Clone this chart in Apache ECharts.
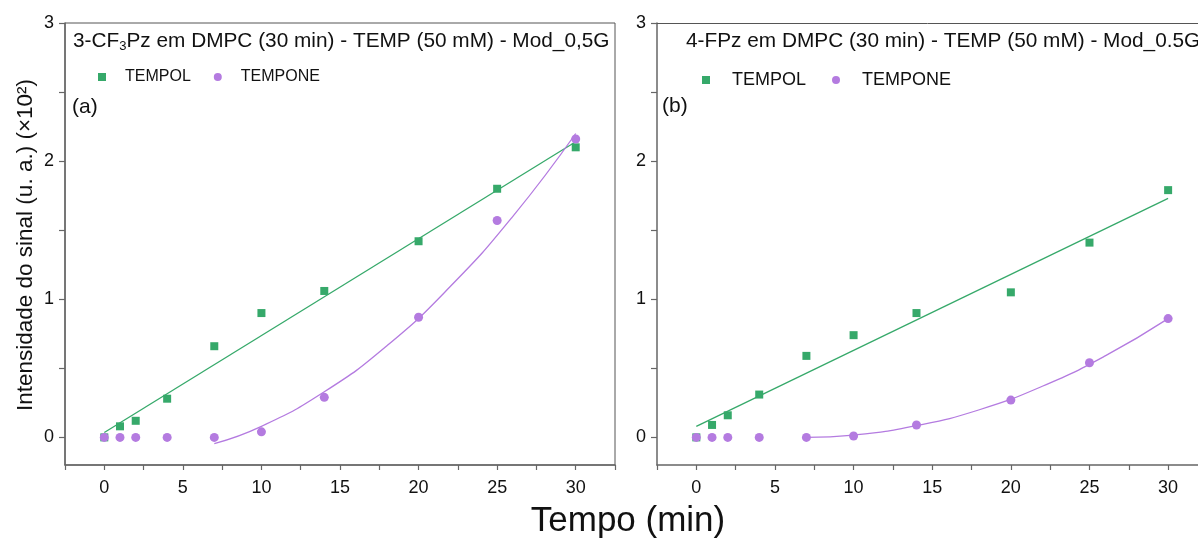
<!DOCTYPE html>
<html>
<head>
<meta charset="utf-8">
<script src="https://cdn.jsdelivr.net/npm/echarts@6/dist/echarts.min.js"></script>
<style>html,body{margin:0;padding:0;background:#fff}#c{width:1198px;height:539px}</style>
</head>
<body>
<div id="c"></div>
<script>
const times = [0, 1, 2, 4, 7, 10, 14, 20, 25, 30];
const tempolA = [0, 0.08, 0.12, 0.28, 0.66, 0.90, 1.06, 1.42, 1.80, 2.10];
const temponeA = [0, 0, 0, 0, 0, 0.04, 0.29, 0.87, 1.57, 2.16];
const tempolB = [0, 0.09, 0.16, 0.31, 0.59, 0.74, 0.90, 1.05, 1.41, 1.79];
const temponeB = [0, 0, 0, 0, 0, 0.01, 0.09, 0.27, 0.54, 0.86];
const fitLineX = [0, 30];
const fitTempolA = [0.035, 2.14];
const fitTempolB = [0.08, 1.73];
const fitCurveX = [7, 10, 14, 18, 22, 26, 30];
const fitTemponeA = [-0.045, 0.08, 0.33, 0.665, 1.09, 1.6, 2.2];
const fitTemponeB = [0, 0.017, 0.085, 0.2, 0.37, 0.59, 0.86];
const xTicks = [-2.5, 0, 2.5, 5, 7.5, 10, 12.5, 15, 17.5, 20, 22.5, 25, 27.5, 30, 32.5];
const xLabels = [0, 5, 10, 15, 20, 25, 30];
const yTicks = [0, 0.5, 1, 1.5, 2, 2.5, 3];
const yLabels = [0, 1, 2, 3];

const GREEN = '#36a96a';
const PURPLE = '#b47be0';
const AXIS = '#666';
const FONT = 'Liberation Sans, Arial, sans-serif';

function pairs(xs, ys) { return xs.map((x, i) => [x, ys[i]]); }

function xAxisDef(gi, xmax) {
  return {
    gridIndex: gi, type: 'value', min: -2.5, max: xmax,
    axisLine: { show: true, onZero: false, lineStyle: { color: AXIS, width: 1.5 } },
    axisTick: { show: true, length: 5, customValues: xTicks.filter(v => v <= xmax), lineStyle: { color: AXIS, width: 1.2 } },
    axisLabel: { customValues: xLabels, margin: 14, fontSize: 18, color: '#111', fontFamily: FONT },
    splitLine: { show: false }
  };
}
function yAxisDef(gi) {
  return {
    gridIndex: gi, type: 'value', min: -0.2, max: 3,
    axisLine: { show: true, onZero: false, lineStyle: { color: AXIS, width: 1.5 } },
    axisTick: { show: true, length: 6, customValues: yTicks, lineStyle: { color: AXIS, width: 1.2 } },
    axisLabel: { customValues: yLabels, margin: 11, fontSize: 18, color: '#111', fontFamily: FONT },
    splitLine: { show: false }
  };
}
function scatter(name, gi, data, color, symbol) {
  return {
    name: name, type: 'scatter', xAxisIndex: gi, yAxisIndex: gi,
    data: data, symbol: symbol, symbolSize: symbol === 'rect' ? 8 : 9,
    itemStyle: { color: color, opacity: 1 }, z: symbol === 'rect' ? 3 : 4
  };
}
function fit(name, gi, data, color, smooth) {
  return {
    name: name, type: 'line', xAxisIndex: gi, yAxisIndex: gi, data: data,
    showSymbol: false, smooth: smooth, lineStyle: { color: color, width: 1.3 },
    itemStyle: { color: color }, z: 2, silent: true
  };
}

const chart = echarts.init(document.getElementById('c'), null, { renderer: 'canvas' });
chart.setOption({
  animation: false,
  backgroundColor: '#fff',
  grid: [
    { left: 65, top: 23, width: 550, height: 442, show: true, borderColor: '#555', borderWidth: 1 },
    { left: 657, top: 23, right: 0, height: 442, show: false }
  ],
  xAxis: [
    xAxisDef(0, 32.5),
    xAxisDef(1, 31.9),
    { gridIndex: 1, type: 'value', position: 'top', min: -2.5, max: 31.9,
      axisLine: { show: true, onZero: false, lineStyle: { color: '#555', width: 1 } },
      axisTick: { show: false }, axisLabel: { show: false }, splitLine: { show: false } }
  ],
  yAxis: [yAxisDef(0), yAxisDef(1)],
  legend: [
    { left: 98, top: 69, padding: 0, itemWidth: 8, itemHeight: 8, itemGap: 23, selectedMode: false,
      data: [{ name: 'TEMPOL', icon: 'rect' }, { name: 'TEMPONE', icon: 'circle' }],
      textStyle: { fontSize: 16, color: '#111', fontFamily: FONT, padding: [0, 0, 0, 14] } },
    { left: 702, top: 71, padding: 0, itemWidth: 8, itemHeight: 8, itemGap: 26, selectedMode: false,
      data: [{ name: 'TEMPOL', icon: 'rect' }, { name: 'TEMPONE', icon: 'circle' }],
      textStyle: { fontSize: 18, color: '#111', fontFamily: FONT, padding: [0, 0, 0, 17] } }
  ],
  graphic: [
    { type: 'text', left: 73, top: 31, style: {
        text: '3-CF{sub|3}Pz em DMPC (30 min) - TEMP (50 mM) - Mod_0,5G',
        font: '20.8px ' + FONT, fill: '#111',
        rich: { sub: { fontSize: 13, fontFamily: FONT, fill: '#111', padding: [10, 0, 0, 0] } } } },
    { type: 'text', left: 686, top: 31, style: {
        text: '4-FPz em DMPC (30 min) - TEMP (50 mM) - Mod_0.5G',
        font: '20.8px ' + FONT, fill: '#111' } },
    { type: 'text', left: 72, top: 97, style: { text: '(a)', font: '21px ' + FONT, fill: '#111' } },
    { type: 'text', left: 662, top: 96, style: { text: '(b)', font: '21px ' + FONT, fill: '#111' } },
    { type: 'text', x: 26, y: 245, rotation: Math.PI / 2, style: {
        text: 'Intensidade do sinal (u. a.) (\u00d710\u00b2)', font: '22.5px ' + FONT, fill: '#111',
        align: 'center', verticalAlign: 'middle' } },
    { type: 'text', x: 628, y: 521, style: {
        text: 'Tempo (min)', font: '35px ' + FONT, fill: '#111', align: 'center', verticalAlign: 'middle' } }
  ],
  series: [
    fit('fitA1', 0, pairs(fitLineX, fitTempolA), GREEN, false),
    fit('fitA2', 0, pairs(fitCurveX, fitTemponeA), PURPLE, true),
    scatter('TEMPOL', 0, pairs(times, tempolA), GREEN, 'rect'),
    scatter('TEMPONE', 0, pairs(times, temponeA), PURPLE, 'circle'),
    fit('fitB1', 1, pairs(fitLineX, fitTempolB), GREEN, false),
    fit('fitB2', 1, pairs(fitCurveX, fitTemponeB), PURPLE, true),
    scatter('TEMPOL', 1, pairs(times, tempolB), GREEN, 'rect'),
    scatter('TEMPONE', 1, pairs(times, temponeB), PURPLE, 'circle')
  ]
});
</script>
</body>
</html>
